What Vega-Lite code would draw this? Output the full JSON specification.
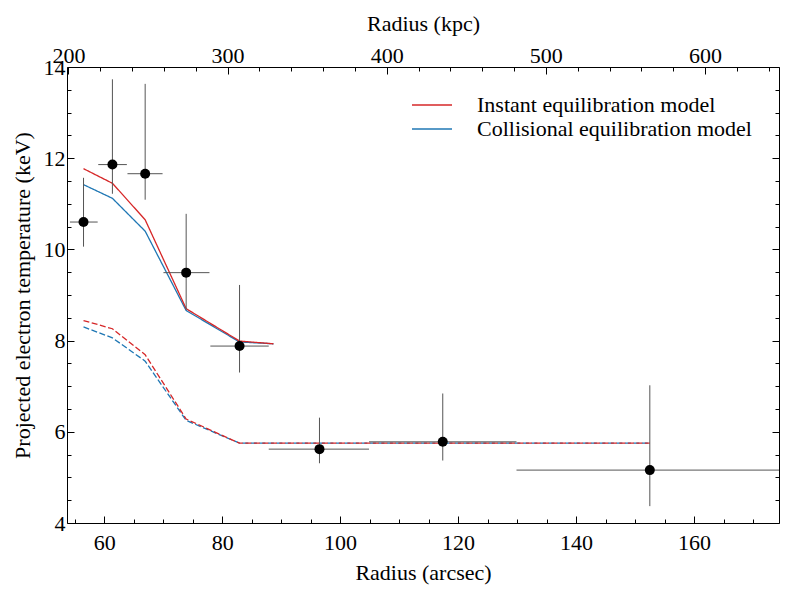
{
  "$schema": "https://vega.github.io/schema/vega-lite/v6.json",
  "autosize": "none",
  "width": 712,
  "height": 456,
  "padding": {"left": 67, "top": 67, "right": 8, "bottom": 67},
  "background": "white",
  "datasets": {
    "obs": [
      {"r": 56.5, "t": 10.60, "rlo": 54.2, "rhi": 58.9, "tlo": 10.06, "thi": 11.57},
      {"r": 61.4, "t": 11.86, "rlo": 59.0, "rhi": 63.85, "tlo": 11.22, "thi": 13.73},
      {"r": 66.95, "t": 11.66, "rlo": 63.95, "rhi": 69.9, "tlo": 11.09, "thi": 13.63},
      {"r": 73.9, "t": 9.49, "rlo": 70.05, "rhi": 77.85, "tlo": 8.68, "thi": 10.78},
      {"r": 82.95, "t": 7.88, "rlo": 78.0, "rhi": 87.9, "tlo": 7.30, "thi": 9.22},
      {"r": 96.5, "t": 5.62, "rlo": 87.9, "rhi": 104.9, "tlo": 5.31, "thi": 6.31},
      {"r": 117.4, "t": 5.78, "rlo": 104.9, "rhi": 129.9, "tlo": 5.37, "thi": 6.84},
      {"r": 152.5, "t": 5.16, "rlo": 129.9, "rhi": 176.0, "tlo": 4.37, "thi": 7.02}
    ],
    "models": [
      {"model": "Collisional equilibration model", "kind": "projected", "r": 56.5, "t": 11.42},
      {"model": "Collisional equilibration model", "kind": "projected", "r": 61.4, "t": 11.12},
      {"model": "Collisional equilibration model", "kind": "projected", "r": 66.95, "t": 10.40},
      {"model": "Collisional equilibration model", "kind": "projected", "r": 73.9, "t": 8.66},
      {"model": "Collisional equilibration model", "kind": "projected", "r": 82.95, "t": 7.97},
      {"model": "Collisional equilibration model", "kind": "projected", "r": 88.7, "t": 7.93},
      {"model": "Instant equilibration model", "kind": "projected", "r": 56.5, "t": 11.77},
      {"model": "Instant equilibration model", "kind": "projected", "r": 61.4, "t": 11.45},
      {"model": "Instant equilibration model", "kind": "projected", "r": 66.95, "t": 10.65},
      {"model": "Instant equilibration model", "kind": "projected", "r": 73.9, "t": 8.70},
      {"model": "Instant equilibration model", "kind": "projected", "r": 82.95, "t": 7.99},
      {"model": "Instant equilibration model", "kind": "projected", "r": 88.7, "t": 7.93},
      {"model": "Collisional equilibration model", "kind": "electron", "r": 56.5, "t": 8.30},
      {"model": "Collisional equilibration model", "kind": "electron", "r": 61.4, "t": 8.06},
      {"model": "Collisional equilibration model", "kind": "electron", "r": 66.95, "t": 7.55},
      {"model": "Collisional equilibration model", "kind": "electron", "r": 73.9, "t": 6.25},
      {"model": "Collisional equilibration model", "kind": "electron", "r": 82.95, "t": 5.75},
      {"model": "Collisional equilibration model", "kind": "electron", "r": 152.5, "t": 5.75},
      {"model": "Instant equilibration model", "kind": "electron", "r": 56.5, "t": 8.44},
      {"model": "Instant equilibration model", "kind": "electron", "r": 61.4, "t": 8.26},
      {"model": "Instant equilibration model", "kind": "electron", "r": 66.95, "t": 7.69},
      {"model": "Instant equilibration model", "kind": "electron", "r": 73.9, "t": 6.28},
      {"model": "Instant equilibration model", "kind": "electron", "r": 82.95, "t": 5.75},
      {"model": "Instant equilibration model", "kind": "electron", "r": 152.5, "t": 5.75}
    ]
  },
  "layer": [
    {
      "data": {"name": "models"},
      "mark": {"type": "line", "strokeWidth": 1.3, "clip": true},
      "encoding": {
        "x": {
          "field": "r", "type": "quantitative",
          "scale": {"domain": [53.7, 174.4], "nice": false, "zero": false},
          "axis": {
            "orient": "bottom", "title": "Radius (arcsec)",
            "values": [60, 80, 100, 120, 140, 160],
            "tickSize": -7, "labelPadding": 16.5, "titlePadding": 9,
            "domain": true
          }
        },
        "y": {
          "field": "t", "type": "quantitative",
          "scale": {"domain": [4, 14], "nice": false, "zero": false},
          "axis": {
            "orient": "left", "title": "Projected electron temperature (keV)",
            "values": [4, 6, 8, 10, 12, 14],
            "tickSize": -7, "labelPadding": 9, "titlePadding": 9,
            "domain": true
          }
        },
        "color": {
          "field": "model", "type": "nominal",
          "scale": {
            "domain": ["Instant equilibration model", "Collisional equilibration model"],
            "range": ["#d62728", "#1f77b4"]
          },
          "legend": {
            "title": null, "orient": "none", "legendX": 354, "legendY": 27,
            "symbolType": "M-2,0H2", "symbolSize": 400, "symbolStrokeWidth": 1.3,
            "labelOffset": 34, "rowPadding": 2, "padding": 0,
            "labelFont": "Liberation Serif", "labelFontSize": 22, "labelColor": "black",
            "labelLimit": 400
          }
        },
        "strokeDash": {
          "field": "kind", "type": "nominal",
          "scale": {"domain": ["projected", "electron"], "range": [[1, 0], [6, 2.5]]},
          "legend": null
        }
      }
    },
    {
      "data": {"name": "obs"},
      "mark": {"type": "rule", "color": "#555555", "strokeWidth": 1, "clip": true},
      "encoding": {
        "x": {
          "field": "rlo", "type": "quantitative",
          "axis": {
            "orient": "bottom", "title": null, "labels": false, "domain": false,
            "values": [55, 65, 70, 75, 85, 90, 95, 105, 110, 115, 125, 130, 135, 145, 150, 155, 165, 170],
            "tickSize": -4
          }
        },
        "x2": {"field": "rhi"},
        "y": {
          "field": "t", "type": "quantitative",
          "axis": {
            "orient": "left", "title": null, "labels": false, "domain": false,
            "values": [4.5, 5, 5.5, 6.5, 7, 7.5, 8.5, 9, 9.5, 10.5, 11, 11.5, 12.5, 13, 13.5],
            "tickSize": -4
          }
        }
      }
    },
    {
      "data": {"name": "obs"},
      "mark": {"type": "rule", "color": "#555555", "strokeWidth": 1, "clip": true},
      "encoding": {
        "x": {
          "field": "r", "type": "quantitative",
          "axis": {
            "orient": "top", "title": "Radius (kpc)",
            "values": [53.952, 80.928, 107.904, 134.880, 161.856],
            "labelExpr": "format(datum.value * 3.707, '.0f')",
            "tickSize": -7, "labelPadding": 7, "titlePadding": 9,
            "domain": true
          }
        },
        "y": {
          "field": "tlo", "type": "quantitative",
          "axis": {
            "orient": "right", "title": null, "labels": false, "domain": true,
            "values": [4, 6, 8, 10, 12, 14],
            "tickSize": -7
          }
        },
        "y2": {"field": "thi"}
      }
    },
    {
      "data": {"name": "obs"},
      "mark": {"type": "circle", "color": "black", "opacity": 1, "size": 100},
      "encoding": {
        "x": {
          "field": "r", "type": "quantitative",
          "axis": {
            "orient": "top", "title": null, "labels": false, "domain": false,
            "values": [59.347, 64.742, 70.138, 75.533, 86.323, 91.718, 97.114, 102.509, 113.299, 118.694, 124.090, 129.485, 140.275, 145.670, 151.066, 156.461, 167.251, 172.646],
            "tickSize": -4
          }
        },
        "y": {
          "field": "t", "type": "quantitative",
          "axis": {
            "orient": "right", "title": null, "labels": false, "domain": false,
            "values": [4.5, 5, 5.5, 6.5, 7, 7.5, 8.5, 9, 9.5, 10.5, 11, 11.5, 12.5, 13, 13.5],
            "tickSize": -4
          }
        }
      }
    }
  ],
  "resolve": {"axis": {"x": "independent", "y": "independent"}},
  "config": {
    "view": {"stroke": null},
    "font": "Liberation Serif",
    "axis": {
      "labelFont": "Liberation Serif", "labelFontSize": 22, "labelColor": "black",
      "titleFont": "Liberation Serif", "titleFontSize": 22, "titleFontWeight": "normal", "titleColor": "black",
      "domainColor": "black", "domainWidth": 1, "tickColor": "black", "tickWidth": 1,
      "grid": false, "labelFlush": false, "labelOverlap": false, "labelBound": false
    }
  }
}
